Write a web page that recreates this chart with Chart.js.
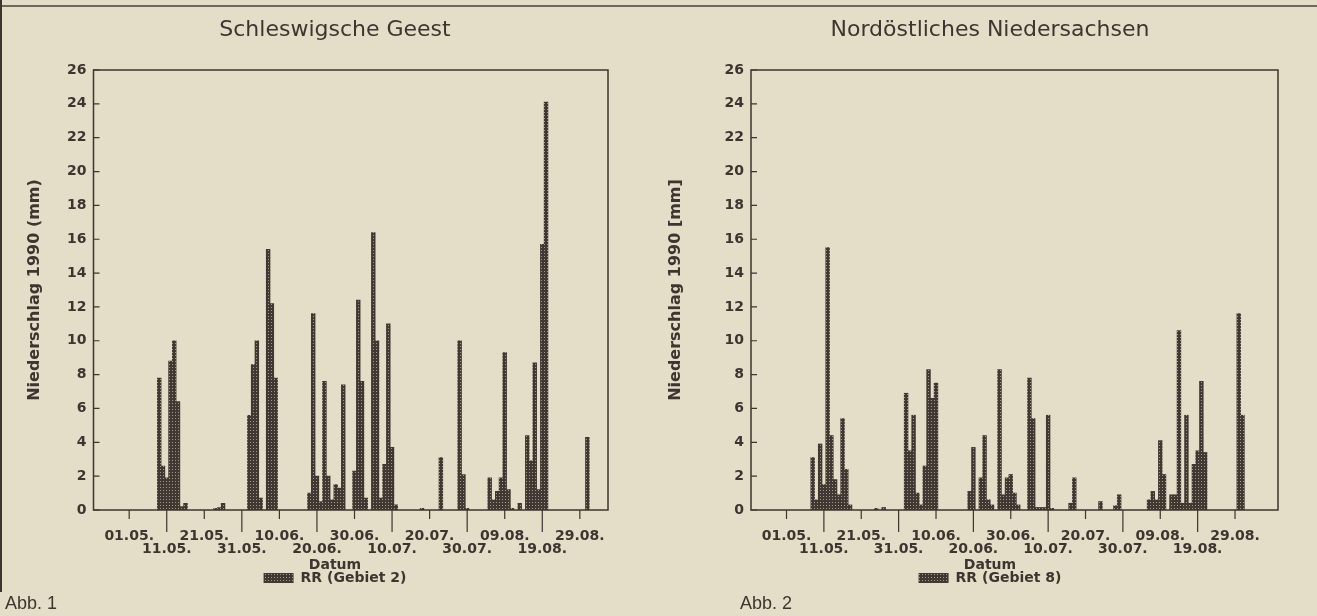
<!DOCTYPE html>
<html>
<head>
<meta charset="utf-8">
<title>Niederschlag 1990</title>
<script src="https://cdn.jsdelivr.net/npm/chart.js@4.4.1/dist/chart.umd.min.js"></script>
<style>
  html, body { margin: 0; padding: 0; background: #e4ddc7; }
  body { width: 1317px; height: 616px; position: relative; overflow: hidden;
         font-family: "DejaVu Sans", sans-serif; color: #3d3530; }
  .rule { position: absolute; left: 0; top: 5px; width: 1317px; height: 2px; background: #6f675e; }
  .edge { position: absolute; left: 0; top: 0; width: 2px; height: 592px; background: #3c352f; }
  #geest { position: absolute; left: 0; top: 0; }
  #nieder { position: absolute; left: 663px; top: 0; }
  .abb { position: absolute; top: 593px; font-family: "Liberation Sans", sans-serif; font-size: 18px; }
</style>
</head>
<body>
<div class="rule"></div>
<div class="edge"></div>
<canvas id="geest" width="670" height="616"></canvas>
<canvas id="nieder" width="654" height="616"></canvas>
<div class="abb" style="left:5px">Abb. 1</div>
<div class="abb" style="left:740px">Abb. 2</div>
<script>
// tick labels along the date axis, every 10 days, two staggered rows
const tickLabels = ["01.05.", "11.05.", "21.05.", "31.05.", "10.06.", "20.06.", "30.06.",
  "10.07.", "20.07.", "30.07.", "09.08.", "19.08.", "29.08."];

// Schleswigsche Geest, RR (Gebiet 2), daily precipitation in mm
const geestDays = ["09.05.", "10.05.", "11.05.", "12.05.", "13.05.", "14.05.", "15.05.", "16.05.",
  "24.05.", "25.05.", "26.05.",
  "02.06.", "03.06.", "04.06.", "05.06.", "07.06.", "08.06.", "09.06.",
  "18.06.", "19.06.", "20.06.", "21.06.", "22.06.", "23.06.", "24.06.", "25.06.", "26.06.", "27.06.",
  "30.06.", "01.07.", "02.07.", "03.07.", "05.07.", "06.07.", "07.07.", "08.07.", "09.07.", "10.07.", "11.07.",
  "18.07.", "23.07.", "28.07.", "29.07.", "30.07.",
  "05.08.", "06.08.", "07.08.", "08.08.", "09.08.", "10.08.", "11.08.", "13.08.",
  "15.08.", "16.08.", "17.08.", "18.08.", "19.08.", "20.08.", "31.08."];
const geestRain = [7.8, 2.6, 1.9, 8.8, 10.0, 6.4, 0.2, 0.4,
  0.1, 0.15, 0.4,
  5.6, 8.6, 10.0, 0.7, 15.4, 12.2, 7.8,
  1.0, 11.6, 2.0, 0.5, 7.6, 2.0, 0.6, 1.5, 1.3, 7.4,
  2.3, 12.4, 7.6, 0.7, 16.4, 10.0, 0.7, 2.7, 11.0, 3.7, 0.3,
  0.1, 3.1, 10.0, 2.1, 0.1,
  1.9, 0.6, 1.1, 1.9, 9.3, 1.2, 0.1, 0.4,
  4.4, 2.9, 8.7, 1.2, 15.7, 24.1, 4.3];

// Nordöstliches Niedersachsen, RR (Gebiet 8)
const niederDays = ["08.05.", "09.05.", "10.05.", "11.05.", "12.05.", "13.05.", "14.05.", "15.05.", "16.05.", "17.05.", "18.05.",
  "25.05.", "27.05.",
  "02.06.", "03.06.", "04.06.", "05.06.", "06.06.", "07.06.", "08.06.", "09.06.", "10.06.",
  "19.06.", "20.06.", "22.06.", "23.06.", "24.06.", "25.06.",
  "27.06.", "28.06.", "29.06.", "30.06.", "01.07.", "02.07.",
  "05.07.", "06.07.", "07.07.", "08.07.", "09.07.", "10.07.", "11.07.",
  "16.07.", "17.07.", "24.07.", "28.07.", "29.07.",
  "06.08.", "07.08.", "08.08.", "09.08.", "10.08.",
  "12.08.", "13.08.", "14.08.", "15.08.", "16.08.", "17.08.", "18.08.", "19.08.", "20.08.", "21.08.",
  "30.08.", "31.08."];
const niederRain = [3.1, 0.6, 3.9, 1.5, 15.5, 4.4, 1.8, 0.9, 5.4, 2.4, 0.3,
  0.1, 0.15,
  6.9, 3.5, 5.6, 1.0, 0.3, 2.6, 8.3, 6.6, 7.5,
  1.1, 3.7, 1.9, 4.4, 0.6, 0.3,
  8.3, 0.9, 1.9, 2.1, 1.0, 0.3,
  7.8, 5.4, 0.15, 0.15, 0.15, 5.6, 0.1,
  0.4, 1.9, 0.5, 0.25, 0.9,
  0.6, 1.1, 0.6, 4.1, 2.1,
  0.9, 0.9, 10.6, 0.4, 5.6, 0.4, 2.7, 3.5, 7.6, 3.4,
  11.6, 5.6];

const INK = "#3d3530";
const FONT = "DejaVu Sans";

// all days on the axis, from 22.04. up to the last day shown
function dayList(lastDay, lastMonth){
  const out = [];
  const d = new Date(1990, 3, 22);
  while(true){
    const dd = String(d.getDate()).padStart(2, "0");
    const mm = String(d.getMonth() + 1).padStart(2, "0");
    out.push(`${dd}.${mm}.`);
    if(d.getDate() === lastDay && d.getMonth() + 1 === lastMonth) break;
    d.setDate(d.getDate() + 1);
  }
  return out;
}

function dotPattern(){
  const c = document.createElement("canvas");
  c.width = 3; c.height = 3;
  const g = c.getContext("2d");
  g.fillStyle = "#403832"; g.fillRect(0, 0, 3, 3);
  g.fillStyle = "#a39985"; g.fillRect(1, 1, 1, 1);
  return g.createPattern(c, "repeat");
}

// box around the plot, inward y ticks, short/long date ticks
const framePlugin = {
  id: "frame",
  afterDatasetsDraw(chart){
    const { ctx, chartArea: a } = chart;
    const x = chart.scales.x, y = chart.scales.y;
    const labels = x.getLabels();
    ctx.save();
    ctx.strokeStyle = INK;
    ctx.lineWidth = 1.5;
    ctx.strokeRect(a.left, a.top, a.right - a.left, a.bottom - a.top);
    ctx.lineWidth = 1.2;
    ctx.beginPath();
    y.ticks.forEach(t => {
      const py = y.getPixelForValue(t.value);
      ctx.moveTo(a.left, py); ctx.lineTo(a.left + 6, py);
    });
    tickLabels.forEach((lab, k) => {
      const px = x.getPixelForValue(labels.indexOf(lab));
      ctx.moveTo(px, a.bottom); ctx.lineTo(px, a.bottom + (k % 2 ? 22 : 9));
    });
    ctx.stroke();
    ctx.restore();
  }
};

function makeChart(id, cfg){
  const labels = dayList(cfg.lastDay, cfg.lastMonth);
  const data = cfg.days.map((d, i) => ({ x: d, y: cfg.rain[i] }));
  return new Chart(document.getElementById(id), {
    type: "bar",
    data: {
      labels,
      datasets: [{
        label: cfg.legend,
        data,
        backgroundColor: dotPattern(),
        borderWidth: 0,
        barPercentage: 1,
        categoryPercentage: 1,
        yAxisID: "y"
      }]
    },
    options: {
      responsive: false,
      animation: false,
      events: [],
      layout: { padding: { left: 0, right: 0, top: 0, bottom: 21 } },
      plugins: {
        tooltip: { enabled: false },
        title: {
          display: true, text: cfg.title, color: INK,
          font: { family: FONT, size: 22, weight: "normal" },
          padding: { top: 17, bottom: 26.6 }
        },
        legend: {
          position: "bottom",
          title: { display: true, text: "Datum", color: INK, padding: { top: 2, bottom: -1 },
                   font: { family: FONT, size: 14, weight: "bold", lineHeight: 1 } },
          labels: { color: INK, boxWidth: 30, boxHeight: 10, padding: 0,
                    font: { family: FONT, size: 14, weight: "bold" } }
        }
      },
      scales: {
        x: {
          type: "category",
          grid: { display: false, drawTicks: false },
          border: { display: false },
          afterFit: s => { s.height = 46; },
          ticks: {
            autoSkip: false, maxRotation: 0, minRotation: 0, padding: 20, color: INK,
            font: { family: FONT, size: 14, weight: "bold", lineHeight: 0.93 },
            callback(value){
              const lab = this.getLabelForValue(value);
              const k = tickLabels.indexOf(lab);
              if(k < 0) return null;
              return k % 2 ? ["", lab] : [lab, ""];
            }
          }
        },
        y: {
          min: 0, max: 26,
          grid: { display: false, drawTicks: false },
          border: { display: false },
          afterFit: s => { s.width = cfg.yWidth; },
          ticks: { stepSize: 2, padding: 7, color: INK,
                   font: { family: FONT, size: 14, weight: "bold" } },
          title: { display: true, text: cfg.yTitle, color: INK,
                   font: { family: FONT, size: 16, weight: "bold" },
                   padding: { top: cfg.yTitlePad, bottom: 0 } }
        },
        spare: {
          type: "linear", position: "right",
          grid: { display: false, drawTicks: false },
          border: { display: false },
          ticks: { display: false },
          afterFit: s => { s.width = cfg.rightGap; }
        }
      }
    },
    plugins: [framePlugin]
  });
}

makeChart("geest", {
  title: "Schleswigsche Geest",
  yTitle: "Niederschlag 1990 (mm)",
  legend: "RR (Gebiet 2)",
  days: geestDays, rain: geestRain,
  lastDay: 5, lastMonth: 9,
  yWidth: 93.5, rightGap: 62, yTitlePad: 25.4
});

makeChart("nieder", {
  title: "Nordöstliches Niedersachsen",
  yTitle: "Niederschlag 1990 [mm]",
  legend: "RR (Gebiet 8)",
  days: niederDays, rain: niederRain,
  lastDay: 9, lastMonth: 9,
  yWidth: 88, rightGap: 39, yTitlePad: 3.4
});
</script>
</body>
</html>
